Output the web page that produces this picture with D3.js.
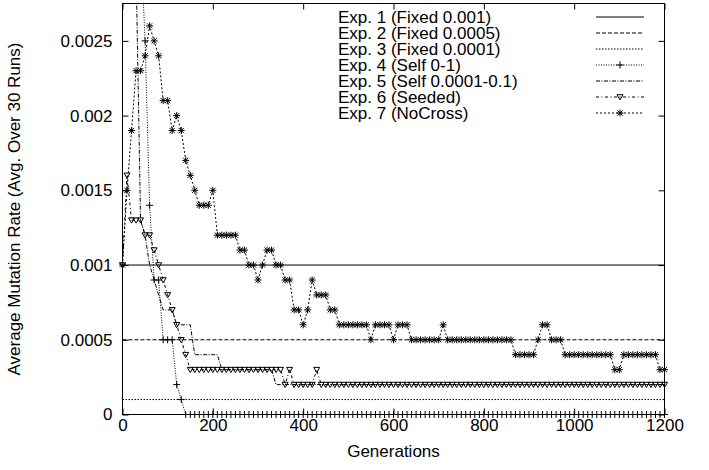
<!DOCTYPE html>
<html>
<head>
<meta charset="utf-8">
<script src="https://cdn.jsdelivr.net/npm/d3@7"></script>
<style>
  body { margin: 0; background: #fff; }
  text { font-family: "Liberation Sans", Arial, Helvetica, sans-serif; font-size: 17px; fill: #000; }
</style>
</head>
<body>
<div id="chart"></div>
<script>
// generations sampled every 10 (one marker per sample)
let gens = d3.range(0, 1201, 10)

// all rates below are in units of 0.0001
let fixedRates = [10, 5, 1]

let self01 = [5000, 1000, 300, 100, 32, 25, 14, 9, 9, 5,
  5, 5, 2, 1, 0, 0, 0, 0, 0, 0,
  0, 0, 0, 0, 0, 0, 0, 0, 0, 0,
  0, 0, 0, 0, 0, 0, 0, 0, 0, 0,
  0, 0, 0, 0, 0, 0, 0, 0, 0, 0,
  0, 0, 0, 0, 0, 0, 0, 0, 0, 0,
  0, 0, 0, 0, 0, 0, 0, 0, 0, 0,
  0, 0, 0, 0, 0, 0, 0, 0, 0, 0,
  0, 0, 0, 0, 0, 0, 0, 0, 0, 0,
  0, 0, 0, 0, 0, 0, 0, 0, 0, 0,
  0, 0, 0, 0, 0, 0, 0, 0, 0, 0,
  0, 0, 0, 0, 0, 0, 0, 0, 0, 0,
  0]

let selfSmall = [500, 150, 60, 30, 13, 12, 10, 9, 8, 7,
  7, 7, 6, 6, 6, 6, 4, 4, 4, 4,
  4, 4, 3, 3, 3, 3, 3, 3, 3, 3,
  3, 3, 3, 3, 2, 2, 2, 2, 2, 2,
  2, 2, 2, 2, 2, 2, 2, 2, 2, 2,
  2, 2, 2, 2, 2, 2, 2, 2, 2, 2,
  2, 2, 2, 2, 2, 2, 2, 2, 2, 2,
  2, 2, 2, 2, 2, 2, 2, 2, 2, 2,
  2, 2, 2, 2, 2, 2, 2, 2, 2, 2,
  2, 2, 2, 2, 2, 2, 2, 2, 2, 2,
  2, 2, 2, 2, 2, 2, 2, 2, 2, 2,
  2, 2, 2, 2, 2, 2, 2, 2, 2, 2,
  2]

let seeded = [10, 16, 13, 13, 13, 12, 12, 11, 10, 9,
  8, 7, 6, 5, 4, 3, 3, 3, 3, 3,
  3, 3, 3, 3, 3, 3, 3, 3, 3, 3,
  3, 3, 3, 3, 3, 3, 2, 3, 2, 2,
  2, 2, 2, 3, 2, 2, 2, 2, 2, 2,
  2, 2, 2, 2, 2, 2, 2, 2, 2, 2,
  2, 2, 2, 2, 2, 2, 2, 2, 2, 2,
  2, 2, 2, 2, 2, 2, 2, 2, 2, 2,
  2, 2, 2, 2, 2, 2, 2, 2, 2, 2,
  2, 2, 2, 2, 2, 2, 2, 2, 2, 2,
  2, 2, 2, 2, 2, 2, 2, 2, 2, 2,
  2, 2, 2, 2, 2, 2, 2, 2, 2, 2,
  2]

let noCross = [10, 15, 19, 23, 23, 24, 26, 25, 24, 21,
  21, 19, 20, 19, 17, 16, 15, 14, 14, 14,
  15, 12, 12, 12, 12, 12, 11, 11, 10, 10,
  9, 10, 11, 11, 10, 10, 9, 9, 7, 7,
  6, 7, 9, 8, 8, 8, 7, 7, 6, 6,
  6, 6, 6, 6, 6, 5, 6, 6, 6, 6,
  5, 6, 6, 6, 5, 5, 5, 5, 5, 5,
  5, 6, 5, 5, 5, 5, 5, 5, 5, 5,
  5, 5, 5, 5, 5, 5, 5, 4, 4, 4,
  4, 4, 5, 6, 6, 5, 5, 5, 4, 4,
  4, 4, 4, 4, 4, 4, 4, 4, 4, 3,
  3, 4, 4, 4, 4, 4, 4, 4, 4, 3,
  3]

let labels = ['Exp. 1 (Fixed 0.001)', 'Exp. 2 (Fixed 0.0005)', 'Exp. 3 (Fixed 0.0001)',
  'Exp. 4 (Self 0-1)', 'Exp. 5 (Self 0.0001-0.1)', 'Exp. 6 (Seeded)', 'Exp. 7 (NoCross)']

let xTicks = [0, 200, 400, 600, 800, 1000, 1200]
let yTicks = [0, 0.0005, 0.001, 0.0015, 0.002, 0.0025]

let unit = 0.0001

// line styles for the 7 experiments
let dashes = [null, '4,2', '1.5,1.5', '1,1.5', '4,1.5,1,1.5', '3,2.5,1,2.5', '2,2']
let symbols = [null, null, null, 'plus', null, 'tri', 'star']

let width = 709
let height = 470

let svg = d3
  .select('#chart')
  .append('svg')
  .attr('width', width)
  .attr('height', height)

let x = d3.scaleLinear().domain([0, 1200]).range([122.5, 664.5])
let y = d3.scaleLinear().domain([0, 0.00275]).range([414.5, 3.5])

svg.append('clipPath')
  .attr('id', 'plot-clip')
  .append('rect')
  .attr('x', x(0))
  .attr('y', y(0.00275))
  .attr('width', x(1200) - x(0))
  .attr('height', y(0) - y(0.00275))

// build series as [gen, rate] pairs
let fixedSeries = fixedRates.map(r => [[0, r * unit], [1200, r * unit]])
let curveSeries = [self01, selfSmall, seeded, noCross].map(vals => vals.map((v, i) => [gens[i], v * unit]))
let allSeries = fixedSeries.concat(curveSeries)

let line = d3.line().x(d => x(d[0])).y(d => y(d[1]))

let symbolPath = {
  plus: 'M-3.5,0H3.5M0,-3.5V3.5',
  tri: 'M-3,-2.3L3,-2.3L0,2.9Z',
  star: 'M-3.5,0H3.5M0,-3.5V3.5M-2.6,-2.6L2.6,2.6M-2.6,2.6L2.6,-2.6'
}

let plot = svg.append('g').attr('clip-path', 'url(#plot-clip)')

allSeries.forEach((s, i) => {
  plot.append('path')
    .datum(s)
    .attr('d', line)
    .attr('fill', 'none')
    .attr('stroke', '#000')
    .attr('stroke-width', 1)
    .attr('stroke-dasharray', dashes[i])
})

// point markers (only points inside the y range)
allSeries.forEach((s, i) => {
  if (!symbols[i]) return
  svg.append('g')
    .selectAll('path')
    .data(s.filter(d => d[1] <= 0.00275))
    .enter()
    .append('path')
    .attr('transform', d => 'translate(' + x(d[0]) + ',' + y(d[1]) + ')')
    .attr('d', symbolPath[symbols[i]])
    .attr('fill', 'none')
    .attr('stroke', '#000')
    .attr('stroke-width', 1)
})

// axes, ticks pointing inward on all four sides
let xAxis = svg.append('g')
  .attr('transform', 'translate(0,' + y(0) + ')')
  .call(d3.axisBottom(x).tickValues(xTicks).tickSize(-6).tickPadding(4.5).tickFormat(d3.format('d')))
let xAxisTop = svg.append('g')
  .attr('transform', 'translate(0,' + y(0.00275) + ')')
  .call(d3.axisTop(x).tickValues(xTicks).tickSize(-6).tickFormat(''))
let yAxis = svg.append('g')
  .attr('transform', 'translate(' + x(0) + ',0)')
  .call(d3.axisLeft(y).tickValues(yTicks).tickSize(-6).tickPadding(10).tickFormat(d3.format('~g')))
let yAxisRight = svg.append('g')
  .attr('transform', 'translate(' + x(1200) + ',0)')
  .call(d3.axisRight(y).tickValues(yTicks).tickSize(-6).tickFormat(''))

;[xAxis, xAxisTop, yAxis, yAxisRight].forEach(a => {
  a.select('.domain').remove()
  a.selectAll('line').attr('stroke', '#000')
  a.selectAll('text').attr('font-size', null).attr('font-family', null)
})

svg.append('rect')
  .attr('x', x(0))
  .attr('y', y(0.00275))
  .attr('width', x(1200) - x(0))
  .attr('height', y(0) - y(0.00275))
  .attr('fill', 'none')
  .attr('stroke', '#000')

// axis titles
svg.append('text')
  .attr('x', (x(0) + x(1200)) / 2)
  .attr('y', 451)
  .attr('text-anchor', 'middle')
  .attr('dominant-baseline', 'central')
  .text('Generations')

svg.append('text')
  .attr('transform', 'translate(14,' + (y(0) + y(0.00275)) / 2 + ') rotate(-90)')
  .attr('text-anchor', 'middle')
  .attr('dominant-baseline', 'central')
  .text('Average Mutation Rate (Avg. Over 30 Runs)')

// legend
let legend = svg.append('g')
labels.forEach((lab, i) => {
  let ly = 17 + i * 16
  legend.append('text')
    .attr('x', 338)
    .attr('y', ly)
    .attr('dominant-baseline', 'central')
    .text(lab)
  legend.append('line')
    .attr('x1', 596).attr('x2', 644)
    .attr('y1', ly).attr('y2', ly)
    .attr('stroke', '#000')
    .attr('stroke-dasharray', dashes[i])
  if (symbols[i]) {
    legend.append('path')
      .attr('transform', 'translate(620,' + ly + ')')
      .attr('d', symbolPath[symbols[i]])
      .attr('fill', 'none')
      .attr('stroke', '#000')
  }
})
</script>
</body>
</html>
